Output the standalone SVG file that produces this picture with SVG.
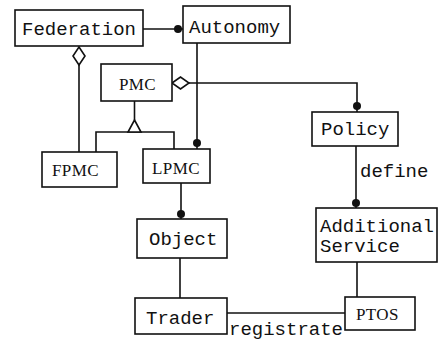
<svg xmlns="http://www.w3.org/2000/svg" width="447" height="340" viewBox="0 0 447 340">
<style>
.box{fill:#fff;stroke:#111;stroke-width:1.6}
.ln{fill:none;stroke:#111;stroke-width:1.6}
.dot{fill:#111}
.dia{fill:#fff;stroke:#111;stroke-width:1.6}
.m{font-family:"Liberation Mono",monospace;font-size:19px;fill:#111}
.s{font-family:"Liberation Serif",serif;font-size:17px;fill:#111;letter-spacing:0.4px}
</style>
<g id="connectors">
<line class="ln" x1="143" y1="29" x2="183" y2="29"/>
<circle class="dot" cx="178" cy="29" r="4"/>
<line class="ln" x1="79" y1="65" x2="79" y2="152"/>
<polygon class="dia" points="79,47 85,56 79,65 73,56"/>
<line class="ln" x1="197" y1="43" x2="197" y2="149"/>
<circle class="dot" cx="197" cy="143" r="4"/>
<polyline class="ln" points="189,83 357,83 357,112"/>
<circle class="dot" cx="357" cy="106" r="4"/>
<polygon class="dia" points="172,83 180.5,77 189,83 180.5,89"/>
<line class="ln" x1="134.5" y1="101" x2="134.5" y2="120"/>
<polyline class="ln" points="96,152 96,132 174,132 174,149"/>
<polygon class="dia" points="134.5,120 141,132 128,132"/>
<line class="ln" x1="181" y1="183" x2="181" y2="219"/>
<circle class="dot" cx="181" cy="214" r="4"/>
<line class="ln" x1="356" y1="146" x2="356" y2="208"/>
<circle class="dot" cx="356" cy="203" r="4"/>
<text class="m" x="360" y="177">define</text>
<line class="ln" x1="180" y1="258" x2="180" y2="298"/>
<line class="ln" x1="357" y1="262" x2="357" y2="297"/>
<line class="ln" x1="227" y1="313" x2="345" y2="313"/>
<text class="m" x="229" y="335">registrate</text>
</g>
<g id="federation"><rect class="box" x="15" y="10" width="128" height="36"/><text class="m" x="22" y="35">Federation</text></g>
<g id="autonomy"><rect class="box" x="183" y="6" width="107" height="37"/><text class="m" x="189" y="33">Autonomy</text></g>
<g id="pmc"><rect class="box" x="101" y="64" width="71" height="37"/><text class="s" x="119" y="90">PMC</text></g>
<g id="fpmc"><rect class="box" x="42" y="152" width="75" height="35"/><text class="s" x="52" y="176">FPMC</text></g>
<g id="lpmc"><rect class="box" x="143" y="149" width="67" height="34"/><text class="s" x="152" y="174">LPMC</text></g>
<g id="policy"><rect class="box" x="312" y="112" width="86" height="34"/><text class="m" x="321" y="135">Policy</text></g>
<g id="additional-service"><rect class="box" x="316" y="208" width="121" height="54"/><text class="m" x="320" y="232">Additional</text><text class="m" x="320" y="252">Service</text></g>
<g id="object"><rect class="box" x="137" y="219" width="90" height="39"/><text class="m" x="149" y="245">Object</text></g>
<g id="trader"><rect class="box" x="135" y="298" width="92" height="36"/><text class="m" x="146" y="324">Trader</text></g>
<g id="ptos"><rect class="box" x="345" y="297" width="70" height="33"/><text class="s" x="356" y="320">PTOS</text></g>
</svg>
